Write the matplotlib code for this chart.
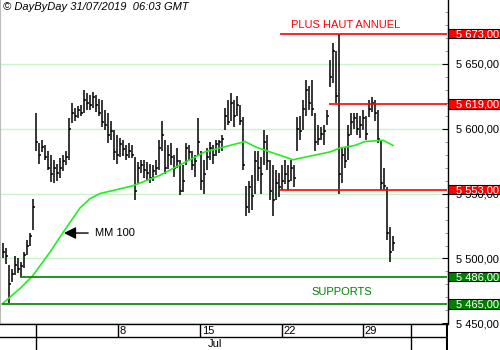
import matplotlib
matplotlib.use("Agg")
import matplotlib.pyplot as plt
import matplotlib.transforms as mtransforms
from matplotlib.patches import Rectangle
from matplotlib.ticker import MultipleLocator, FuncFormatter

plt.rcParams['font.family'] = ['Liberation Sans', 'DejaVu Sans']

# hourly bars (high / low / close)
highs = [5512, 5508, 5495, 5492, 5502, 5500, 5497, 5505, 5514, 5520, 5546,
         5612, 5589, 5591, 5587, 5583, 5580, 5576, 5573, 5577, 5580,
         5583, 5608, 5620, 5616, 5617, 5618, 5630, 5627, 5626, 5628,
         5626, 5623, 5622, 5614, 5612, 5606, 5599, 5595, 5593, 5591,
         5587, 5589, 5587, 5578, 5574, 5576, 5576, 5574, 5573, 5572,
         5576, 5591, 5606, 5591, 5587, 5589, 5580, 5585, 5576, 5572,
         5589, 5587, 5583, 5580, 5608, 5583, 5576, 5585, 5590, 5587,
         5591, 5591, 5595, 5616, 5622, 5627, 5622, 5625, 5618, 5609,
         5556, 5560, 5564, 5583, 5583, 5578, 5599, 5595, 5576, 5572,
         5568, 5566, 5572, 5576, 5572, 5576, 5572, 5609, 5610, 5622,
         5637, 5633, 5637, 5612, 5603, 5601, 5603, 5614, 5653, 5666,
         5660, 5673, 5586, 5586, 5603, 5612, 5612, 5612, 5610, 5614,
         5610, 5622, 5624, 5622, 5614, 5591, 5570, 5555, 5524, 5517]
lows = [5500, 5496, 5466, 5482, 5487, 5489, 5486, 5493, 5503, 5510, 5522,
        5583, 5573, 5582, 5576, 5568, 5559, 5558, 5560, 5562, 5567,
        5572, 5576, 5604, 5606, 5608, 5610, 5612, 5614, 5614, 5616,
        5613, 5610, 5601, 5599, 5589, 5591, 5576, 5573, 5578, 5579,
        5576, 5577, 5577, 5545, 5558, 5566, 5562, 5560, 5558, 5560,
        5564, 5568, 5583, 5565, 5569, 5572, 5563, 5570, 5549, 5551,
        5572, 5576, 5568, 5563, 5580, 5553, 5550, 5568, 5576, 5573,
        5579, 5581, 5583, 5599, 5603, 5606, 5601, 5610, 5603, 5568,
        5533, 5535, 5537, 5550, 5560, 5550, 5572, 5568, 5545, 5533,
        5545, 5547, 5553, 5557, 5553, 5560, 5555, 5583, 5591, 5599,
        5610, 5614, 5610, 5583, 5587, 5591, 5587, 5603, 5632, 5635,
        5620, 5550, 5558, 5570, 5576, 5595, 5600, 5595, 5593, 5599,
        5591, 5609, 5613, 5606, 5589, 5553, 5553, 5514, 5497, 5506]
closes = [5505, 5502, 5480, 5488, 5495, 5492, 5494, 5503, 5510, 5517, 5540,
          5590, 5580, 5586, 5578, 5570, 5565, 5570, 5566, 5570, 5575,
          5578, 5600, 5612, 5610, 5614, 5612, 5622, 5620, 5618, 5624,
          5618, 5612, 5605, 5603, 5595, 5598, 5582, 5580, 5588, 5584,
          5580, 5583, 5580, 5552, 5570, 5572, 5568, 5566, 5562, 5567,
          5570, 5585, 5595, 5570, 5580, 5578, 5570, 5575, 5552, 5560,
          5585, 5582, 5572, 5575, 5590, 5560, 5565, 5578, 5585, 5580,
          5588, 5590, 5592, 5610, 5605, 5620, 5610, 5618, 5606, 5572,
          5540, 5555, 5548, 5575, 5570, 5565, 5590, 5575, 5552, 5545,
          5558, 5555, 5560, 5565, 5560, 5570, 5562, 5600, 5598, 5615,
          5630, 5620, 5615, 5590, 5592, 5596, 5598, 5610, 5640, 5660,
          5625, 5565, 5580, 5575, 5595, 5605, 5608, 5600, 5603, 5608,
          5596, 5615, 5620, 5612, 5592, 5558, 5556, 5520, 5505, 5512]

# moving average (MM 100) read at a few bars
ma_idx = [-0.3, 5.7, 10, 15.7, 20, 25.7, 29, 32.3, 38, 43.3, 52.3, 67.3, 72.3,
          80.7, 84, 89, 96.7, 100.7, 109, 112.3, 117.3, 120.7, 126.7, 130]
ma_val = [5465, 5477, 5487, 5505, 5520, 5539, 5546, 5550, 5553, 5556, 5564,
          5582, 5585, 5590, 5586, 5582, 5576, 5578, 5582, 5585, 5587, 5590,
          5591, 5587]

# resistances (red) and supports (green), with the bar where the line starts
res_levels = [5673, 5619, 5553]
res_start = [92.3, 108.7, 92.3]
sup_levels = [5486, 5465]
sup_start = [5.7, -0.3]

day_ticks = [38.3, 65.7, 93, 120]
day_labels = ["8", "15", "22", "29"]
month_ticks = [11, 136]
month_label = "Jul"
month_label_pos = 70.5

RED = '#ff0000'
GREEN = '#008000'
XMIN, XMAX = -1, 148.17
YMIN, YMAX = 5449.6, 5698.9


def fmt_price(v, _pos=None):
    return f"{int(round(v)):,}".replace(",", " ") + ",00"


def main():
    fig = plt.figure(figsize=(5, 3.5), dpi=100)
    ax = fig.add_axes([0, 26 / 350, 447.5 / 500, 324 / 350])
    ax.set_xlim(XMIN, XMAX)
    ax.set_ylim(YMIN, YMAX)

    ax.grid(axis='y', which='major', color='#c8f5c8', lw=1, zorder=0)
    ax.spines['top'].set_visible(False)
    ax.spines['left'].set_color('#bbbbbb')
    ax.spines['right'].set_linewidth(1.0)
    ax.spines['bottom'].set_linewidth(1.0)

    ax.set_xticks([])
    ax.yaxis.tick_right()
    ax.yaxis.set_major_locator(MultipleLocator(50))
    ax.yaxis.set_minor_locator(MultipleLocator(10))
    ax.yaxis.set_major_formatter(FuncFormatter(fmt_price))
    ax.tick_params(axis='y', which='both', direction='in', right=True,
                   labelsize=8, pad=6)
    ax.tick_params(axis='y', which='major', length=4)
    ax.tick_params(axis='y', which='minor', length=2, color='#888888')

    # bars
    idx = list(range(len(highs)))
    ax.vlines(idx, lows, highs, color='black', lw=1.1, zorder=3)
    ax.hlines(closes, idx, [i + 0.55 for i in idx],
              color='black', lw=1.1, zorder=3)

    ax.plot(ma_idx, ma_val, color='#22ee22', lw=1.2, zorder=4)

    for lvl, x0 in zip(res_levels, res_start):
        ax.hlines(lvl, x0, XMAX, color=RED, lw=1.2, zorder=5)
    for lvl, x0 in zip(sup_levels, sup_start):
        ax.hlines(lvl, x0, XMAX, color=GREEN, lw=1.2, zorder=5)

    # level boxes on the right axis
    trans = mtransforms.blended_transform_factory(ax.transAxes, ax.transData)
    box_w = 53 / 445.5
    box_h = 9.5 / 1.3
    for lvl, col in [(l, RED) for l in res_levels] + [(l, GREEN) for l in sup_levels]:
        ax.add_patch(Rectangle((1.0, lvl - box_h / 2), box_w, box_h,
                               transform=trans, facecolor=col,
                               edgecolor='black', lw=0.8,
                               clip_on=False, zorder=10))
        ax.text(1.0 + 8.5 / 445.5, lvl, fmt_price(lvl), transform=trans,
                color='white', fontsize=8, ha='left', va='center_baseline',
                clip_on=False, zorder=11)

    ax.text(114.3, 5679.6, "PLUS HAUT ANNUEL", color=RED, fontsize=8,
            ha='center', va='center')
    ax.text(113, 5474.2, "SUPPORTS", color=GREEN, fontsize=8,
            ha='center', va='center')

    ax.annotate("MM 100", xy=(20.3, 5519.6), xytext=(30.7, 5519.6),
                fontsize=8, va='center', ha='left',
                arrowprops=dict(arrowstyle='-|>,head_length=0.9,head_width=0.45',
                                color='black', lw=1, shrinkA=3, shrinkB=0))

    fig.text(3 / 500, 1 - 7 / 350, "\u00a9 DayByDay 31/07/2019  06:03 GMT",
             fontsize=8, style='italic', ha='left', va='center')

    # date strip under the chart
    ax2 = fig.add_axes([0, 0, 447.5 / 500, 26 / 350], sharex=ax)
    ax2.set_ylim(0, 1)
    ax2.set_xlim(XMIN, XMAX)
    ax2.axis('off')
    ax2.axhline(0.5, color='black', lw=1)
    ax2.axvline(XMAX, color='black', lw=1.5)
    ax2.vlines(day_ticks, 0.5, 1, color='black', lw=1)
    ax2.vlines(month_ticks, 0, 1, color='black', lw=1)
    for t, lab in zip(day_ticks, day_labels):
        ax2.text(t + 0.5, 0.73, lab, fontsize=8, ha='left', va='center')
    ax2.text(month_label_pos, 0.23, month_label, fontsize=8, ha='center',
             va='center')

    fig.savefig("out.png", dpi=100)


if __name__ == '__main__':
    main()
